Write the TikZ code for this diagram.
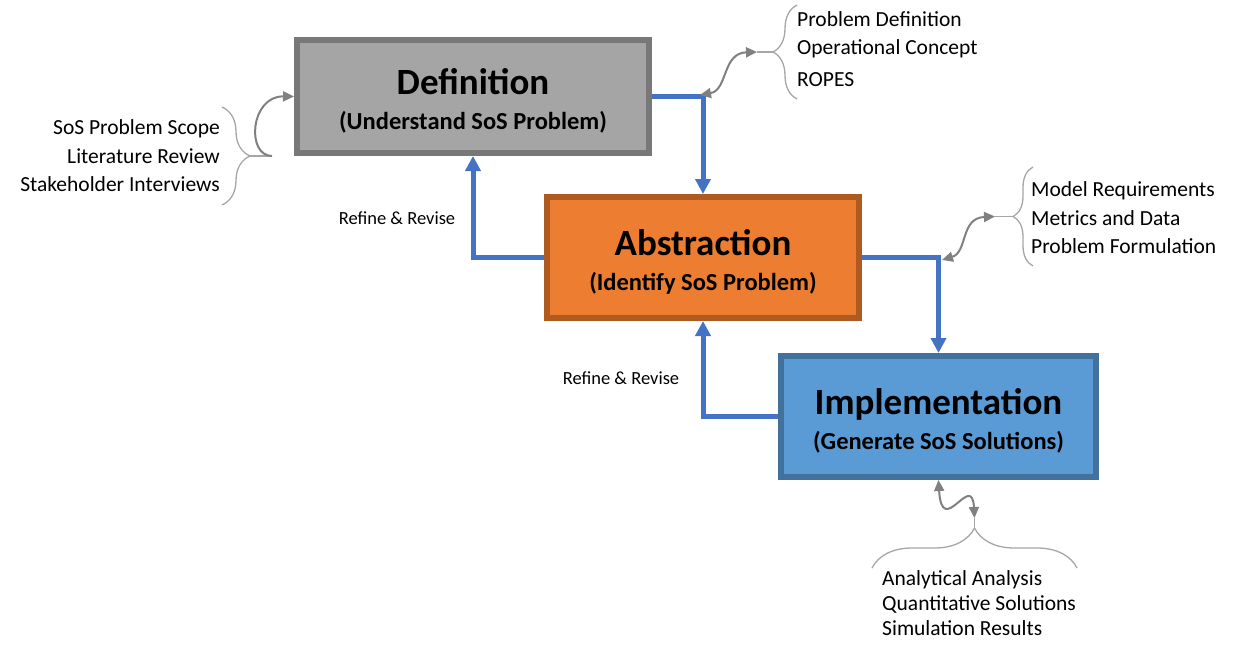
\documentclass[tikz,border=0pt]{standalone}
\usepackage{fontspec}
\setmainfont{Carlito}
\usetikzlibrary{positioning,arrows.meta,decorations.pathreplacing,calc}

\definecolor{defgray}{HTML}{A5A5A5}
\definecolor{defedge}{HTML}{787878}
\definecolor{absorange}{HTML}{ED7D31}
\definecolor{absedge}{HTML}{AE5A21}
\definecolor{implblue}{HTML}{5B9BD5}
\definecolor{impledge}{HTML}{41719C}
\definecolor{flowblue}{HTML}{4472C4}
\definecolor{linkgray}{HTML}{808080}
\definecolor{bracegray}{HTML}{A6A6A6}

\newcommand{\headfont}{\fontsize{37}{37}\selectfont\bfseries}
\newcommand{\subfont}{\fontsize{24.5}{24.5}\selectfont\bfseries}

\tikzset{
  phase/.style={draw, line width=6pt, align=center, inner sep=0pt, font=\fontsize{24.5}{35}\selectfont},
  flow/.style={draw=flowblue, line width=5pt, -{Triangle[length=15pt,width=15pt]}},
  note/.style={font=\fontsize{21.5}{28.5}\selectfont, inner sep=0pt},
  revise/.style={font=\fontsize{18.5}{20}\selectfont, inner sep=0pt},
  bracket/.style={draw=bracegray, line width=1.3pt, decorate, decoration={brace, amplitude=#1}},
  link/.style={draw=linkgray, line width=2pt, -{Triangle[length=11pt,width=10pt]}},
  twolink/.style={draw=linkgray, line width=2pt, {Triangle[length=11pt,width=10pt]}-{Triangle[length=11pt,width=10pt]}}
}

\begin{document}
\begin{tikzpicture}[x=1pt,y=-1pt]
\useasboundingbox (0,0) rectangle (1237,654);

% the three phases
\node[phase, draw=defedge, fill=defgray, minimum width=352pt, minimum height=113pt] (def) at (473,96.5)
  {{\headfont\rule{0pt}{34pt}Definition}\\{\subfont (Understand SoS Problem)}};
\node[phase, draw=absedge, fill=absorange, minimum width=312pt, minimum height=121pt] (abs) at (703,257.5)
  {{\headfont\rule{0pt}{34pt}Abstraction}\\{\subfont (Identify SoS Problem)}};
\node[phase, draw=impledge, fill=implblue, minimum width=315pt, minimum height=121pt] (impl) at (938.5,416.5)
  {{\headfont\rule{0pt}{34pt}Implementation}\\{\subfont (Generate SoS Solutions)}};

% flow and feedback
\draw[flow] (def.east) -| (abs.north);
\draw[flow] (abs.west) -| (def.south);
\draw[flow] (abs.east) -| (impl.north);
\draw[flow] (impl.west) -| (abs.south);
\node[revise] (rev1) at (397,218) {Refine \& Revise};
\node[revise] (rev2) at (621,378) {Refine \& Revise};

% inputs of definition
\node[note, anchor=east, align=right] (scope) at (220,156)
  {SoS Problem Scope\\Literature Review\\Stakeholder Interviews};
\draw[bracket=28pt] (222,107) -- (222,205);
\coordinate (scopetip) at (250,156);
\draw[bracegray, line width=1.3pt] (scopetip) -- ++(22,0) coordinate (scopeend);
\draw[link] (scopeend) .. controls (246,156) and (250,96) .. (def.west);

% outputs of definition
\node[note, anchor=west, align=left] (defout) at (797,49)
  {Problem Definition\\Operational Concept\\[3pt]ROPES};
\draw[bracket=24pt] (797,99) -- (797,5);
\coordinate (deftip) at (773,52);
\draw[bracegray, line width=1.3pt] (deftip) -- ++(-16,0) coordinate (defend);
\coordinate (defcorner) at (700,95);
\draw[twolink] (defcorner) .. controls (728,90) and (722,53) .. (defend);

% outputs of abstraction
\node[note, anchor=west, align=left] (absout) at (1031,218)
  {Model Requirements\\Metrics and Data\\Problem Formulation};
\draw[bracket=20pt] (1033,266) -- (1033,167);
\coordinate (abstip) at (1013,216.5);
\draw[bracegray, line width=1.3pt] (abstip) -- ++(-18,0) coordinate (absend);
\coordinate (abscorner) at (942,260);
\draw[twolink] (abscorner) .. controls (968,252) and (960,218) .. (absend);

% outputs of implementation
\node[note, anchor=west, align=left, font=\fontsize{21.5}{25}\selectfont] (implout) at (882,603)
  {Analytical Analysis\\Quantitative Solutions\\Simulation Results};
\draw[bracket=40pt] (872,568) -- (1077,568);
\coordinate (impltip) at (974.5,528);
\draw[bracegray, line width=1.3pt] (impltip) -- ++(0,-10) coordinate (implend);
\draw[twolink] (impl.south) .. controls (942,540) and (972,470) .. (implend);
\end{tikzpicture}
\end{document}
